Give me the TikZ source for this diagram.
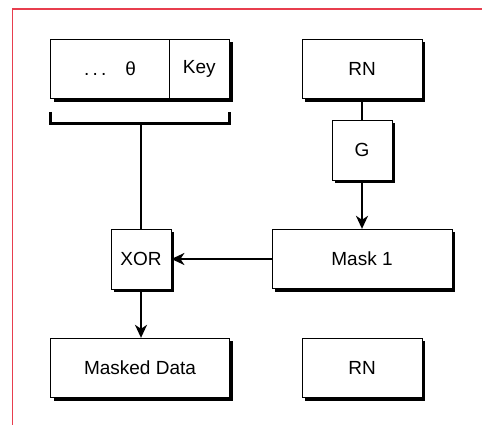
\documentclass[tikz,border=0pt]{standalone}
\usepackage{fontspec}
\setmainfont{Liberation Sans}
\usetikzlibrary{arrows.meta,shadows}
\definecolor{moldura}{RGB}{232,62,78}

\begin{document}
\begin{tikzpicture}[x=1pt, y=-1pt,
    caixa/.style={draw, line width=0.8pt, fill=white, inner sep=0pt,
        minimum height=59.5pt, font=\fontsize{19}{22}\selectfont,
        drop shadow={shadow xshift=3.2pt, shadow yshift=-3.2pt, fill=black, opacity=1}},
    ligacao/.style={line width=2.7pt},
    seta/.style={line width=2.7pt, -{Stealth[length=13pt, width=12pt, inset=4pt]}}]

        \useasboundingbox (0,0) rectangle (482,425);

        % moldura vermelha
        \draw[moldura, line width=1.3pt] (12.5,425) -- (12.5,9) -- (482,9);

        % caixas
        \node[caixa, minimum width=119pt] (dados) at (110,68.75) {.\,.\,.\quad θ};
        \node[caixa, minimum width=60pt] (chave) at (199.3,68.75) {Key};
        \node[caixa, minimum width=120pt] (rnTopo) at (362,68.75) {RN};
        \node[caixa, minimum width=60pt, minimum height=60pt] (gerador) at (362,150) {G};
        \node[caixa, minimum width=60pt, minimum height=60pt] (xorNo) at (141,259) {XOR};
        \node[caixa, minimum width=180pt] (mascara) at (362,259) {Mask 1};
        \node[caixa, minimum width=179pt] (dadosMasc) at (140,368) {Masked Data};
        \node[caixa, minimum width=120pt] (rnBaixo) at (362,368) {RN};

        % colchete
        \coordinate (colchete) at (141,123.5);
        \draw[line width=2.7pt] (50.5,112) -- (50.5,123.5) -- (229.5,123.5) -- (229.5,112);

        % ligacoes
        \draw[ligacao] (colchete) -- (xorNo.north);
        \draw[ligacao] (rnTopo.south) -- (gerador.north);
        \draw[seta] (gerador.south) -- (mascara.north);
        \draw[seta] (mascara.west) -- (xorNo.east);
        \draw[seta] (xorNo.south) -- (xorNo.south |- dadosMasc.north);
    \end{tikzpicture}
\end{document}
